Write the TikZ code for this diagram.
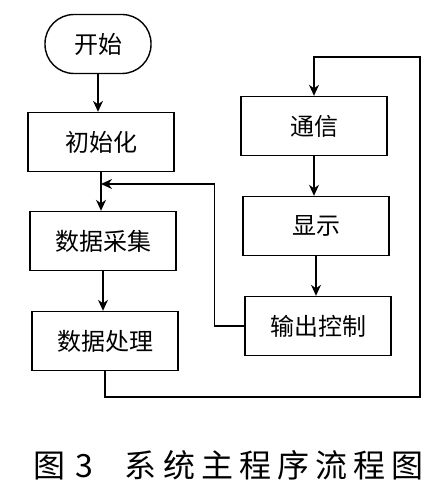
\documentclass[tikz,border=0pt]{standalone}
\usepackage{fontspec}
\setmainfont{Noto Sans CJK SC}
\newfontfamily\capfont[LetterSpace=19]{Noto Sans CJK SC}
\usetikzlibrary{arrows.meta}

\begin{document}
\begin{tikzpicture}[x=1pt,y=-1pt,
	box/.style={draw, line width=1.4pt, minimum width=146pt, minimum height=59pt, inner sep=0pt, font=\fontsize{24}{24}\selectfont},
	term/.style={box, minimum width=106pt, rounded corners=29pt},
	arr/.style={line width=1.4pt, -{Stealth[length=11pt,width=10pt]}}]
\useasboundingbox[fill=white] (0,0) rectangle (441,492);

\node[term] (start) at (98,44) {开始};
\node[box] (init) at (101,142) {初始化};
\node[box] (sample) at (103,241) {数据采集};
\node[box] (process) at (105,341) {数据处理};

\node[box] (comm) at (314,126) {通信};
\node[box] (disp) at (316,226) {显示};
\node[box] (ctrl) at (318,326) {输出控制};

\node[anchor=west, inner sep=0pt] (cap) at (33,465) {\capfont\fontsize{32}{32}\selectfont 图\hspace{10pt}3\hspace{32pt}系统主程序流程图};

\coordinate (join) at (101,184);
\coordinate (lp1) at (420,397);
\coordinate (lp2) at (420,57);

\draw[arr] (start) -- (start |- init.north);
\draw[arr] (init) -- (init |- sample.north);
\draw[arr] (sample) -- (sample |- process.north);
\draw[arr] (ctrl.west) -- ++(-30,0) |- (join);
\draw[arr] (process.south) |- (lp1) -- (lp2) -| (comm.north);

\draw[arr] (comm) -- (comm |- disp.north);
\draw[arr] (disp) -- (disp |- ctrl.north);
\end{tikzpicture}
\end{document}
